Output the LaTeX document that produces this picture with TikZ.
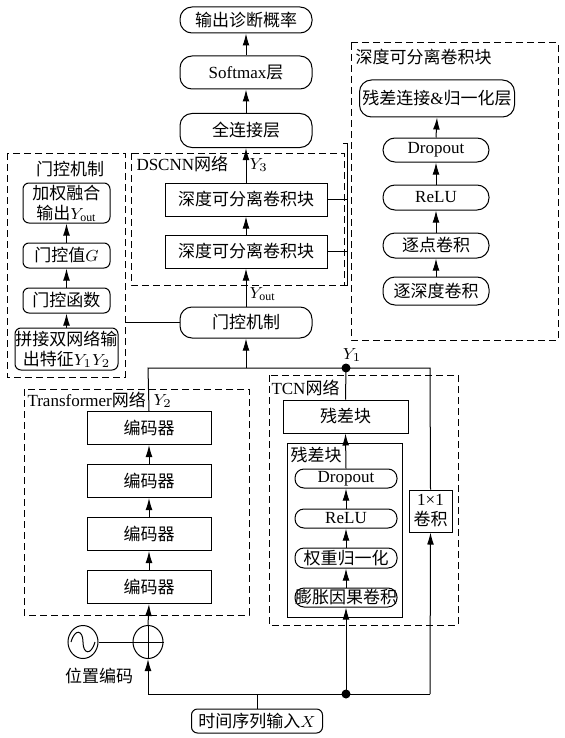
\documentclass[tikz,border=0pt]{standalone}
\usepackage{fontspec}
\setmainfont{Liberation Serif}
\newfontfamily\cjk{Noto Sans CJK SC}
\newcommand{\zh}[1]{{\cjk #1}}
\usetikzlibrary{arrows.meta,shapes.geometric}
\tikzset{
  blk/.style={draw, rectangle, inner sep=0pt},
  pill/.style={draw, rounded corners=6pt, inner sep=0pt},
  spill/.style={draw, rounded corners=4.5pt, inner sep=0pt},
  gblk/.style={draw, rounded corners=3pt, inner sep=0pt, align=center},
  grp/.style={draw, dash pattern=on 3.5pt off 2pt},
  arr/.style={-{Latex[length=6pt,width=3.4pt]}},
  jdot/.style={fill, circle, inner sep=0pt, minimum size=4.5pt},
  lbl/.style={inner sep=0pt}
}
\begin{document}
\begin{tikzpicture}[x=0.5pt,y=-0.5pt,line width=0.5pt,font=\fontsize{8.5}{10}\selectfont]
    \useasboundingbox (0,0) rectangle (564,738);
        % groups
        \draw[grp] (7,153) rectangle (125,377);\draw[grp] (131,153) rectangle (344,285);\draw[grp] (351,43) rectangle (558,340);
        \draw[grp] (24,389) rectangle (249,615);\draw[grp] (269,375) rectangle (458,625);
        \draw (287,443) rectangle (402,617);
        % group labels
        \node[lbl] (lgate) at (70,169) {\zh{门控机制}};
        \node[lbl, anchor=west] (ldsc) at (136,164) {DSCNN\zh{网络}};
        \node[lbl, anchor=west] (ldsb) at (355,57) {\zh{深度可分离卷积块}};
        \node[lbl, anchor=west] (ltf) at (27,400) {Transformer\zh{网络}};
        \node[lbl, anchor=west] (ltcn) at (271,388) {TCN\zh{网络}};
        \node[lbl, anchor=west] (lres) at (290,455) {\zh{残差块}};
        % main column
        \node[pill, minimum width=66pt, minimum height=13pt] (out) at (246,20) {\zh{输出诊断概率}};
        \node[pill, minimum width=66pt, minimum height=16.5pt] (soft) at (246,72.5) {Softmax\zh{层}};
        \node[pill, minimum width=66pt, minimum height=17pt] (fc) at (246,130.5) {\zh{全连接层}};
        \node[blk, minimum width=81pt, minimum height=16.5pt] (dsc2) at (246,199.5) {\zh{深度可分离卷积块}};
        \node[blk, minimum width=81pt, minimum height=16.5pt] (dsc1) at (246,251.5) {\zh{深度可分离卷积块}};
        \node[pill, minimum width=66pt, minimum height=15.5pt] (gate) at (246,322.5) {\zh{门控机制}};
        % gating detail
        \node[gblk, minimum width=43.5pt, minimum height=20pt] (fuse) at (66.5,203) {\zh{加权融合}\\\zh{输出}$Y_{\mathrm{out}}$};
        \node[gblk, minimum width=43.5pt, minimum height=12.5pt] (gval) at (66.5,255.5) {\zh{门控值}$G$};
        \node[gblk, minimum width=43.5pt, minimum height=12.5pt] (gfun) at (66.5,300.5) {\zh{门控函数}};
        \node[gblk, minimum width=51.5pt, minimum height=21pt] (cat) at (66.5,349) {\zh{拼接双网络输}\\\zh{出特征}$Y_1Y_2$};
        % separable block detail
        \node[pill, minimum width=77.5pt, minimum height=18.5pt] (resn) at (437,98.5) {\zh{残差连接}\&\zh{归一化层}};
        \node[pill, minimum width=53pt, minimum height=12pt] (drop) at (436,150) {Dropout};
        \node[pill, minimum width=53pt, minimum height=12.5pt] (relu) at (436,197.5) {ReLU};
        \node[pill, minimum width=53pt, minimum height=12.5pt] (pw) at (436,245.5) {\zh{逐点卷积}};
        \node[pill, minimum width=53pt, minimum height=14pt] (dw) at (436,291) {\zh{逐深度卷积}};
        % transformer
        \node[blk, minimum width=62pt, minimum height=16.5pt] (enc4) at (149,428) {\zh{编码器}};
        \node[blk, minimum width=62pt, minimum height=16.5pt] (enc3) at (149,481) {\zh{编码器}};
        \node[blk, minimum width=62pt, minimum height=16.5pt] (enc2) at (149,534) {\zh{编码器}};
        \node[blk, minimum width=62pt, minimum height=16.5pt] (enc1) at (149,587) {\zh{编码器}};
        \node[draw, ellipse, minimum width=15pt, minimum height=16.5pt, inner sep=0pt] (sine) at (83,642) {};
        \node[draw, ellipse, minimum width=15pt, minimum height=16.5pt, inner sep=0pt] (plus) at (148,642) {};
        \node[lbl] (lpos) at (99,676) {\zh{位置编码}};
        % tcn
        \node[blk, minimum width=62.5pt, minimum height=16.5pt] (rb) at (345.5,416.5) {\zh{残差块}};
        \node[spill, minimum width=51pt, minimum height=9.5pt] (tdrop) at (346,478.5) {Dropout};
        \node[spill, minimum width=51pt, minimum height=9.5pt] (trelu) at (346,518.5) {ReLU};
        \node[spill, minimum width=51pt, minimum height=10pt] (twn) at (346,558) {\zh{权重归一化}};
        \node[spill, minimum width=51pt, minimum height=9.5pt] (tdc) at (346,597.5) {\zh{膨胀因果卷积}};
        \node[blk, minimum width=21.5pt, minimum height=21pt, align=center] (conv1) at (430.5,511) {1×1\\\zh{卷积}};
        % input
        \node[draw, rounded corners=3pt, minimum width=65.5pt, minimum height=12pt, inner sep=0pt] (in) at (257,721) {\zh{时间序列输入}$X$};
        % joints
        \node[jdot] (y1) at (346,368) {};
        \node[jdot] (xd) at (346,694) {};
        \coordinate (jl) at (148,368);\coordinate (jr) at (430,368);\coordinate (jg) at (246,368);
        \coordinate (bl) at (148,694);\coordinate (br) at (430,694);
        % arrows
        \draw[arr] (soft.north) -- (out.south);\draw[arr] (fc.north) -- (soft.south);
        \draw[arr] (dsc2.north) -- (fc.south);\draw[arr] (dsc1.north) -- (dsc2.south);\draw[arr] (gate.north) -- (dsc1.south);
        \draw[arr] (cat.north) -- (gfun.south);\draw[arr] (gfun.north) -- (gval.south);\draw[arr] (gval.north) -- (fuse.south);
        \draw[arr] (dw.north) -- (pw.south);\draw[arr] (pw.north) -- (relu.south);\draw[arr] (relu.north) -- (drop.south);\draw[arr] (drop.north) -- (resn.south);
        \draw[arr] (enc1.north) -- (enc2.south);\draw[arr] (enc2.north) -- (enc3.south);\draw[arr] (enc3.north) -- (enc4.south);
        \draw[arr] (tdc.north) -- (twn.south);\draw[arr] (twn.north) -- (trelu.south);\draw[arr] (trelu.north) -- (tdrop.south);\draw[arr] (tdrop.north) -- (rb.south);
        % lines
        \draw (gate.west) -- (gate.west -| 125,0);
        \draw (dsc2.east) -- (dsc2.east -| 347.5,0);\draw (dsc1.east) -- (dsc1.east -| 347.5,0);
        \draw (343,143) -- (347.5,143) -- (347.5,285) -- (343,285);
        \draw (enc4.north) -- (jl) -- (jr) -- (conv1.north);\draw (rb.north) -- (y1.center);\draw[arr] (jg) -- (gate.south);
        \draw (in.north) -- (in.north |- bl);\draw (bl) -- (br);
        \draw[arr] (bl) -- (plus.south);\draw[arr] (plus.north) -- (enc1.south);
        \draw[arr] (xd.center) -- (tdc.south);\draw[arr] (br) -- (conv1.south);
        % position code
        \draw (sine.east) -- (plus.west);\draw (plus.north) -- (plus.south);\draw (plus.west) -- (plus.east);
        \draw (71,642) .. controls (75,628) and (83,630) .. (83,642) .. controls (83,654) and (91,656) .. (95,642);
        % labels
        \node[lbl, anchor=west] (ly3) at (249,165) {$Y_3$};
        \node[lbl, anchor=west] (lyo) at (249,294) {$Y_{\mathrm{out}}$};
        \node[lbl] (ly1) at (352,355) {$Y_1$};
        \node[lbl, anchor=west] (ly2) at (153,401) {$Y_2$};
\end{tikzpicture}
\end{document}
